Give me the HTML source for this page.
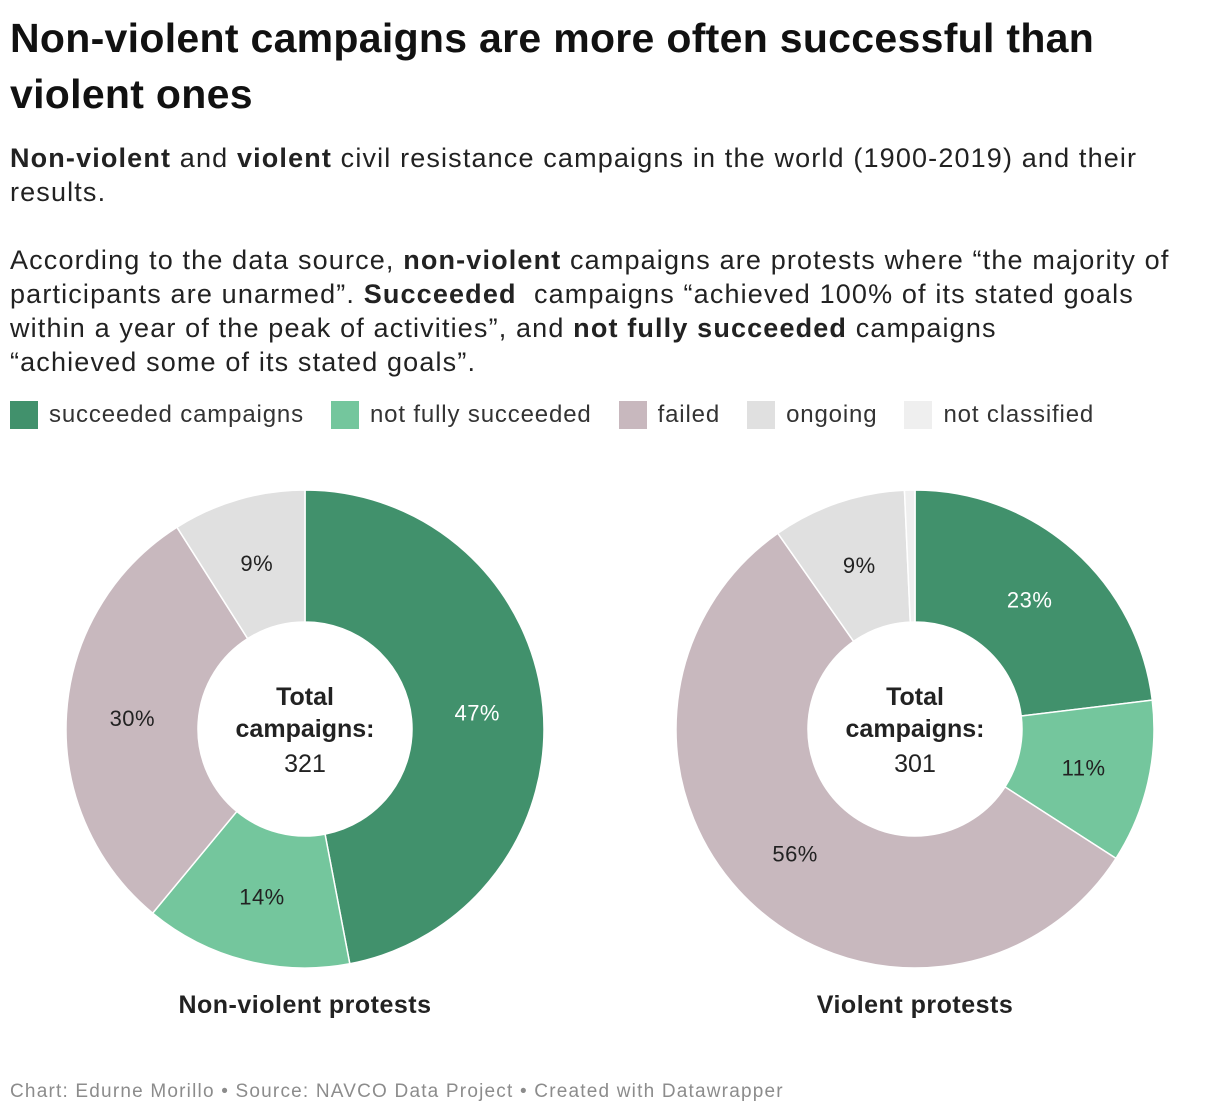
<!DOCTYPE html>
<html><head><meta charset="utf-8"><style>
body{margin:0;width:1220px;height:1116px;background:#fff;font-family:"Liberation Sans",sans-serif;color:#1d1d1d;position:relative;overflow:hidden}
h1{position:absolute;left:10px;top:10px;margin:0;font-size:41px;line-height:56px;font-weight:bold;width:1200px;color:#111;letter-spacing:0.3px;white-space:nowrap}
.desc{position:absolute;left:10px;top:141px;font-size:27px;line-height:34px;width:1210px;color:#222;letter-spacing:1.15px;white-space:nowrap}
.legend{position:absolute;left:10px;top:401px;font-size:24px;display:flex;align-items:center;color:#333;letter-spacing:0.85px;white-space:nowrap}
.li{display:flex;align-items:center;margin-right:27px}
.sw{width:28px;height:28px;margin-right:11px}
.footer{position:absolute;left:10px;top:1081px;font-size:19px;color:#8c8c8c;letter-spacing:1.2px;white-space:nowrap}
svg{position:absolute;left:0;top:0}
</style></head><body>
<h1>Non-violent campaigns are more often successful than<br>violent ones</h1>
<div class="desc"><b>Non-violent</b> and <b>violent</b> civil resistance campaigns in the world (1900-2019) and their<br>results.<br><br>According to the data source, <b>non-violent</b> campaigns are protests where “the majority of<br>participants are unarmed”. <b>Succeeded</b>&nbsp; campaigns “achieved 100% of its stated goals<br>within a year of the peak of activities”, and <b>not fully succeeded</b> campaigns<br>“achieved some of its stated goals”.</div>
<div class="legend">
<div class="li"><div class="sw" style="background:#41916c"></div>succeeded campaigns</div>
<div class="li"><div class="sw" style="background:#74c69d"></div>not fully succeeded</div>
<div class="li"><div class="sw" style="background:#c8b8be"></div>failed</div>
<div class="li"><div class="sw" style="background:#e0e0e0"></div>ongoing</div>
<div class="li"><div class="sw" style="background:#efefef"></div>not classified</div>
</div>
<svg id="chart" width="1220" height="1116"></svg>
<div class="footer">Chart: Edurne Morillo • Source: NAVCO Data Project • Created with Datawrapper</div>
<script>
const categories=["succeeded","not fully succeeded","failed","ongoing","not classified"];
const colors=["#41916c","#74c69d","#c8b8be","#e0e0e0","#efefef"];
const nonViolentValues=[47,14,30,9,0];
const violentValues=[23,11,56,9,0.7];
const nonViolentLabels=["47%","14%","30%","9%",""];
const violentLabels=["23%","11%","56%","9%",""];
const totals=[321,301];
const titles=["Non-violent protests","Violent protests"];
const NS="http://www.w3.org/2000/svg";
const svg=document.getElementById('chart');
function mk(t,a){const e=document.createElementNS(NS,t);for(const k in a)e.setAttribute(k,a[k]);svg.appendChild(e);return e;}
function pt(cx,cy,r,a){return [cx+r*Math.sin(a),cy-r*Math.cos(a)];}
function donut(cx,vals,labels,total,title,idx){
 const cy=729,R=239,r=107,sum=vals.reduce((a,b)=>a+b,0);
 let acc=0;
 vals.forEach((v,i)=>{
  if(v<=0)return;
  const a0=acc/sum*2*Math.PI,a1=(acc+v)/sum*2*Math.PI;acc+=v;
  const lg=(a1-a0)>Math.PI?1:0;
  const p0=pt(cx,cy,R,a0),p1=pt(cx,cy,R,a1),q1=pt(cx,cy,r,a1),q0=pt(cx,cy,r,a0);
  const path=mk('path',{d:`M${p0}A${R},${R} 0 ${lg} 1 ${p1}L${q1}A${r},${r} 0 ${lg} 0 ${q0}Z`,fill:colors[i],stroke:'#fff','stroke-width':1.5});
  
  
  if(labels[i]){
   const m=pt(cx,cy,173,(a0+a1)/2);
   const t=mk('text',{x:m[0],y:m[1]+8,'text-anchor':'middle','font-size':22,'letter-spacing':0.5,fill:i==0?'#fff':'#222'});
   t.textContent=labels[i];
   
   
  }
 });
 const l1=mk('text',{x:cx,y:705,'text-anchor':'middle','font-size':25,'font-weight':'bold',fill:'#222'});l1.textContent='Total';
 
 
 const l2=mk('text',{x:cx,y:737,'text-anchor':'middle','font-size':25,'font-weight':'bold',fill:'#222'});l2.textContent='campaigns:';
 
 
 const l3=mk('text',{x:cx,y:772,'text-anchor':'middle','font-size':25,fill:'#222'});l3.textContent=total;
 
 
 const tt=mk('text',{x:cx,y:1013,'text-anchor':'middle','font-size':25,'font-weight':'bold','letter-spacing':0.5,fill:'#222'});tt.textContent=title;
 
 
}
donut(305,nonViolentValues,nonViolentLabels,totals[0],titles[0],'nonviolent');
donut(915,violentValues,violentLabels,totals[1],titles[1],'violent');
</script>
</body></html>
